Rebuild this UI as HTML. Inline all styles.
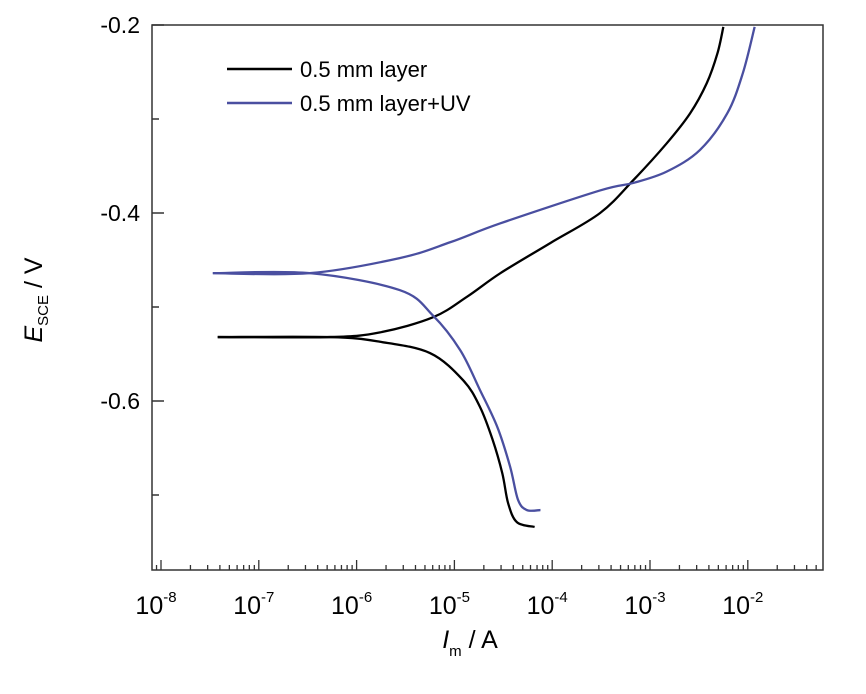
<!DOCTYPE html>
<html><head><meta charset="utf-8"><style>
body{margin:0;background:#fff;}
svg{display:block;font-family:"Liberation Sans",sans-serif;}
</style></head><body>
<svg id="chart" width="866" height="694">
<g id="axes"></g>
<g id="series"></g>
<g id="legend">
<line x1="227" y1="69" x2="292" y2="69" stroke="#000" stroke-width="2.5"/>
<text x="300" y="77" font-size="22">0.5 mm layer</text>
<line x1="227" y1="103" x2="292" y2="103" stroke="#4a4fa0" stroke-width="2.5"/>
<text x="300" y="111" font-size="22">0.5 mm layer+UV</text>
</g>
<text x="42" y="300" font-size="25" transform="rotate(-90 42 300)" text-anchor="middle"><tspan font-style="italic">E</tspan><tspan font-size="15" dy="6">SCE</tspan><tspan dy="-6"> / V</tspan></text>
<text x="470" y="648" font-size="25" text-anchor="middle"><tspan font-style="italic">I</tspan><tspan font-size="15" dy="8">m</tspan><tspan dy="-8"> / A</tspan></text>
</svg>
<script>
const xTicks=[-8,-7,-6,-5,-4,-3,-2];
const yTicks=[-0.2,-0.4,-0.6];
const yMinor=[-0.3,-0.5,-0.7];
const blackAnodicLogI=[-7.42,-6.27,-5.76,-5.22,-4.87,-4.53,-4.02,-3.51,-3.17,-2.83,-2.59,-2.42,-2.31,-2.25];
const blackAnodicE=[-0.532,-0.532,-0.527,-0.511,-0.489,-0.464,-0.432,-0.400,-0.365,-0.326,-0.294,-0.262,-0.230,-0.202];
const blackCathodicLogI=[-7.42,-6.27,-5.76,-5.25,-4.91,-4.74,-4.61,-4.51,-4.45,-4.36,-4.18];
const blackCathodicE=[-0.532,-0.532,-0.537,-0.549,-0.578,-0.606,-0.641,-0.677,-0.709,-0.729,-0.734];
const uvAnodicLogI=[-7.47,-6.48,-5.56,-5.04,-4.53,-3.51,-3.17,-2.83,-2.49,-2.21,-2.05,-1.93];
const uvAnodicE=[-0.464,-0.464,-0.448,-0.431,-0.411,-0.376,-0.368,-0.356,-0.333,-0.294,-0.251,-0.202];
const uvCathodicLogI=[-7.47,-6.48,-5.56,-5.22,-4.94,-4.74,-4.56,-4.43,-4.35,-4.26,-4.12];
const uvCathodicE=[-0.464,-0.464,-0.482,-0.509,-0.546,-0.588,-0.628,-0.670,-0.705,-0.716,-0.716];

const NS="http://www.w3.org/2000/svg";
const L=152,R=823,T=25,B=570;
const X=v=>161+(v+8)*97.8;
const Y=e=>T+(-0.2-e)*940;
function mk(tag,attrs,parent){const el=document.createElementNS(NS,tag);for(const k in attrs)el.setAttribute(k,attrs[k]);parent.appendChild(el);return el;}
const ax=document.getElementById('axes');
let f=mk('rect',{x:L,y:T,width:R-L,height:B-T,fill:'none',stroke:'#333','stroke-width':1.5},ax);


yTicks.forEach(v=>{
 let t=mk('line',{x1:L,x2:L+12,y1:Y(v),y2:Y(v),stroke:'#333','stroke-width':1.5},ax);
 
 
 let tx=mk('text',{x:140,y:Y(v)+8,'font-size':23,'text-anchor':'end'},ax);tx.textContent=v.toFixed(1);
 
 
});
yMinor.forEach(v=>{
 let t=mk('line',{x1:L,x2:L+7,y1:Y(v),y2:Y(v),stroke:'#333','stroke-width':1.5},ax);
 
 
});
for(let d=-9;d<=-1;d++){for(let m=1;m<10;m++){
 const lv=d+Math.log10(m);const px=X(lv);if(px<=L||px>=R)continue;
 let t=mk('line',{x1:px,x2:px,y1:B,y2:B-(m===1?10:5),stroke:'#333','stroke-width':1.3},ax);
 
 
}}
xTicks.forEach(v=>{
 let tx=mk('text',{x:X(v)-5,y:614,'font-size':25,'text-anchor':'middle'},ax);
 tx.innerHTML='10<tspan font-size="15" dy="-12">'+v+'</tspan>';
 
 
});
function path(xs,es){const p=xs.map((v,i)=>[X(v),Y(es[i])]);let d='M'+p[0][0]+','+p[0][1];
 for(let i=0;i<p.length-1;i++){const p0=p[Math.max(0,i-1)],p1=p[i],p2=p[i+1],p3=p[Math.min(p.length-1,i+2)];
 const c1=[p1[0]+(p2[0]-p0[0])/6,p1[1]+(p2[1]-p0[1])/6],c2=[p2[0]-(p3[0]-p1[0])/6,p2[1]-(p3[1]-p1[1])/6];
 d+=' C'+c1+' '+c2+' '+p2;}return d;}
const sg=document.getElementById('series');
[[blackAnodicLogI,blackAnodicE,'#000','black-anodic-branch'],[blackCathodicLogI,blackCathodicE,'#000','black-cathodic-branch'],
 [uvAnodicLogI,uvAnodicE,'#4a4fa0','uv-anodic-branch'],[uvCathodicLogI,uvCathodicE,'#4a4fa0','uv-cathodic-branch']].forEach(s=>{
 let p=mk('path',{d:path(s[0],s[1]),fill:'none',stroke:s[2],'stroke-width':2.3},sg);
 
 
});
</script>
</body></html>
